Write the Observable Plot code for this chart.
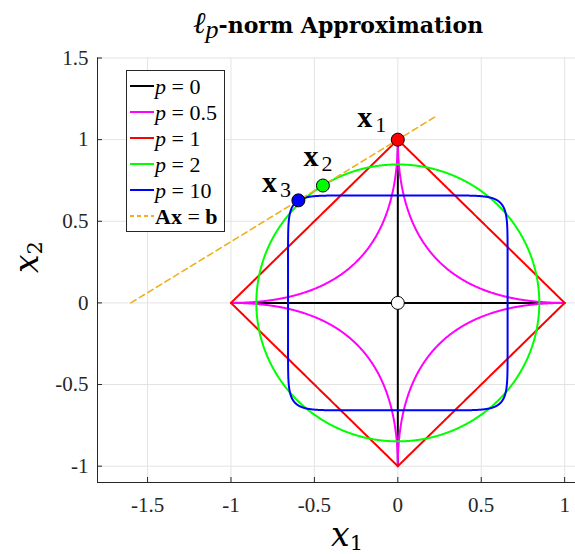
<!DOCTYPE html>
<html><head><meta charset="utf-8">
<script src="https://cdn.jsdelivr.net/npm/d3@7"></script>
<script src="https://cdn.jsdelivr.net/npm/@observablehq/plot@0.6"></script>
<style>body{margin:0;background:#fff}</style>
</head><body><div id="chart"></div>
<script>
// ---- data ----
const pValues = [0, 0.5, 1, 2, 10];
const radii = [1, 1, 1, 0.848, 0.658];
const pColors = ["#000000", "#ff00ff", "#ff0000", "#00ff00", "#0000ff"];
const pLabels = ["0", "0.5", "1", "2", "10"];
const lineX = [-1.6, 0.24];
const lineY = [0, 1.15];
const solNames = ["1", "2", "3"];
const solX = [0, -0.449, -0.596];
const solY = [1, 0.719, 0.628];
const solColors = ["#ff0000", "#00ff00", "#0000ff"];
const originX = [0], originY = [0];
const xTicks = [-1.5, -1, -0.5, 0, 0.5, 1];
const yTicks = [-1, -0.5, 0, 0.5, 1, 1.5];

// ---- geometry ----
const W = 575, H = 554, mL = 97, mR = 0, mT = 57.5, mB = 72;
const plotW = W - mL - mR, plotH = H - mT - mB;
const axisColor = "#262626", gridColor = "#e3e3e3";
const serif = "Liberation Serif, Tinos, Times New Roman, DejaVu Serif, serif";
const mathSerif = "DejaVu Serif, Liberation Serif, serif";

function ball(p, r, n = 2000) {
  const pts = [];
  for (let k = 0; k <= n; k++) {
    const t = 2 * Math.PI * k / n, c = Math.cos(t), s = Math.sin(t);
    pts.push({x: r * Math.sign(c) * Math.pow(Math.abs(c), 2 / p),
              y: r * Math.sign(s) * Math.pow(Math.abs(s), 2 / p)});
  }
  return pts;
}
const p0 = [
  {x: -radii[0], y: 0, g: "h"}, {x: radii[0], y: 0, g: "h"},
  {x: 0, y: -radii[0], g: "v"}, {x: 0, y: radii[0], g: "v"}
];
const lineData = lineX.map((x, i) => ({x, y: lineY[i]}));
const sols = solX.map((x, i) => ({x, y: solY[i], c: solColors[i], n: solNames[i]}));
const origin = originX.map((x, i) => ({x, y: originY[i]}));

const curveMarks = [Plot.line(p0, {x: "x", y: "y", z: "g", stroke: pColors[0], strokeWidth: 2})];
for (let i = 1; i < pValues.length; i++) {
  curveMarks.push(Plot.line(ball(pValues[i], radii[i]), {x: "x", y: "y", stroke: pColors[i], strokeWidth: 2}));
}

const labelOffsets = [
  {dx: -33, dy: -13, sdx: -17, sdy: -8},
  {dx: -12, dy: -20, sdx: 4, sdy: -15},
  {dx: -29, dy: -8, sdx: -13, sdy: -3}
];
const labelMarks = [];
sols.forEach((s, i) => {
  const o = labelOffsets[i];
  labelMarks.push(Plot.text([s], {x: "x", y: "y", text: () => "x", dx: o.dx, dy: o.dy, lineAnchor: "bottom",
    fontWeight: "bold", fontSize: 30, fill: "black"}));
  labelMarks.push(Plot.text([s], {x: "x", y: "y", text: "n", dx: o.sdx, dy: o.sdy, lineAnchor: "bottom",
    fontSize: 22, fill: "black"}));
});

const chart = Plot.plot({
  width: W, height: H, marginLeft: mL, marginRight: mR, marginTop: mT, marginBottom: mB,
  style: {fontFamily: serif, fontSize: "21px", color: axisColor, background: "white", overflow: "visible"},
  x: {domain: [-1.8, 1.065], label: null},
  y: {domain: [-1.1, 1.5], label: null},
  marks: [
    Plot.gridX(xTicks, {stroke: gridColor, strokeOpacity: 1}),
    Plot.gridY(yTicks, {stroke: gridColor, strokeOpacity: 1}),
    Plot.axisX(xTicks, {tickSize: 0, tickPadding: 15, tickFormat: d => String(d), label: null, fontSize: 21, fill: axisColor}),
    Plot.axisY(yTicks, {tickSize: 0, tickPadding: 9, tickFormat: d => String(d), label: null, fontSize: 21, fill: axisColor}),
    Plot.ruleX(xTicks, {stroke: axisColor, insetTop: plotH - 5}),
    Plot.ruleY(yTicks, {stroke: axisColor, insetRight: plotW - 5}),
    Plot.ruleX([-1.8], {stroke: axisColor}),
    Plot.ruleY([-1.1], {stroke: axisColor}),
    ...curveMarks,
    Plot.line(lineData, {x: "x", y: "y", stroke: "#EDB120", strokeWidth: 1.6, strokeDasharray: "6,4"}),
    Plot.dot(sols, {x: "x", y: "y", r: 6.5, fill: "c", stroke: "black", strokeWidth: 1}),
    Plot.dot(origin, {x: "x", y: "y", r: 6.5, fill: "white", stroke: "black", strokeWidth: 1}),
    ...labelMarks
  ]
});

const svg = d3.select(chart);
// title
const title = svg.append("text").attr("x", 193).attr("y", 33).attr("text-anchor", "start").attr("fill", "black").attr("font-family", serif);
title.append("tspan").attr("font-style", "italic").attr("font-size", 30).text("ℓ");
title.append("tspan").attr("font-style", "italic").attr("font-size", 26).attr("dy", 5).text("p");
title.append("tspan").attr("font-weight", "bold").attr("font-size", 22).attr("font-family", mathSerif).attr("dy", -5).text("-norm Approximation");

// x label
const xl = svg.append("text").attr("x", 331).attr("y", 546).attr("text-anchor", "start").attr("fill", "black").attr("font-family", mathSerif);
xl.append("tspan").attr("font-style", "italic").attr("font-size", 33).text("x");
xl.append("tspan").attr("font-size", 21).attr("dy", 4).text("1");
// y label
const yl = svg.append("text").attr("transform", "translate(38,273) rotate(-90)").attr("text-anchor", "start").attr("fill", "black").attr("font-family", mathSerif);
yl.append("tspan").attr("font-style", "italic").attr("font-size", 33).text("x");
yl.append("tspan").attr("font-size", 21).attr("dy", 4).text("2");

// legend
const lg = svg.append("g").attr("text-anchor", "start").attr("font-family", serif);
lg.append("rect").attr("x", 126.5).attr("y", 70.5).attr("width", 98).attr("height", 161)
  .attr("fill", "white").attr("stroke", axisColor).attr("stroke-width", 1);
const legendItems = pLabels.map((l, i) => ({label: l, color: pColors[i], dash: null}));
legendItems.push({label: null, color: "#EDB120", dash: "4,3"});
legendItems.forEach((it, i) => {
  const base = 94 + 26 * i;
  lg.append("line").attr("x1", 130).attr("x2", 154).attr("y1", base - 8).attr("y2", base - 8)
    .attr("stroke", it.color).attr("stroke-width", 2).attr("stroke-dasharray", it.dash);
  const t = lg.append("text").attr("x", 155).attr("y", base).attr("text-anchor", "start").attr("font-size", 22).attr("fill", "black");
  if (it.label !== null) {
    t.append("tspan").attr("font-style", "italic").text("p");
    t.append("tspan").text(" = " + it.label);
  } else {
    t.append("tspan").attr("font-weight", "bold").text("Ax");
    t.append("tspan").text(" = ");
    t.append("tspan").attr("font-weight", "bold").text("b");
  }
});

document.getElementById("chart").appendChild(chart);
</script>
</body></html>
